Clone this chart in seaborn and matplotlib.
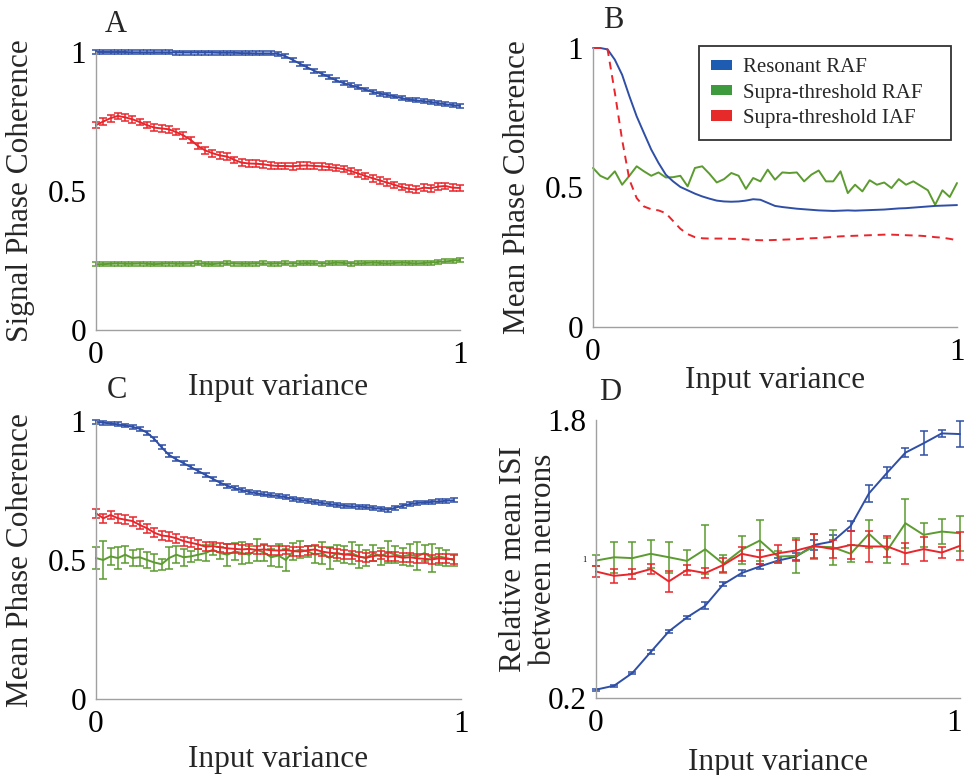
"""
Phase coherence and relative ISI versus input variance for resonant RAF,
supra-threshold RAF and supra-threshold IAF neurons (panels A-D).
"""

import numpy as np
import pandas as pd
import matplotlib
matplotlib.use('Agg')
import matplotlib.pyplot as plt
import matplotlib.transforms as mtransforms
from matplotlib.patches import Patch
from matplotlib.ticker import MultipleLocator
import seaborn as sns

# input variance grids
x_var = [0.00, 0.02, 0.04, 0.06, 0.08, 0.10, 0.12, 0.14, 0.16, 0.18,
         0.20, 0.22, 0.24, 0.26, 0.28, 0.30, 0.32, 0.34, 0.36, 0.38,
         0.40, 0.42, 0.44, 0.46, 0.48, 0.50, 0.52, 0.54, 0.56, 0.58,
         0.60, 0.62, 0.64, 0.66, 0.68, 0.70, 0.72, 0.74, 0.76, 0.78,
         0.80, 0.82, 0.84, 0.86, 0.88, 0.90, 0.92, 0.94, 0.96, 0.98, 1.00]
x_isi = [0.00, 0.05, 0.10, 0.15, 0.20, 0.25, 0.30, 0.35, 0.40, 0.45, 0.50,
         0.55, 0.60, 0.65, 0.70, 0.75, 0.80, 0.85, 0.90, 0.95, 1.00]

# panel A - signal phase coherence
a_res = [1.000, 1.000, 1.000, 1.000, 1.000, 0.999, 0.999, 0.999, 0.999, 0.999,
         0.999, 0.998, 0.998, 0.998, 0.998, 0.998, 0.998, 0.997, 0.997, 0.997,
         0.996, 0.996, 0.995, 0.995, 0.995, 0.993, 0.985, 0.972, 0.958, 0.945,
         0.932, 0.922, 0.910, 0.898, 0.888, 0.880, 0.873, 0.865, 0.856, 0.850,
         0.846, 0.840, 0.834, 0.829, 0.826, 0.823, 0.820, 0.816, 0.812, 0.809, 0.806]
a_iaf = [0.737, 0.750, 0.762, 0.770, 0.765, 0.758, 0.748, 0.737, 0.728, 0.725,
         0.722, 0.712, 0.700, 0.684, 0.662, 0.646, 0.636, 0.628, 0.624, 0.612,
         0.602, 0.599, 0.598, 0.596, 0.592, 0.590, 0.590, 0.589, 0.591, 0.592,
         0.590, 0.589, 0.586, 0.583, 0.579, 0.572, 0.563, 0.554, 0.546, 0.538,
         0.530, 0.522, 0.514, 0.508, 0.505, 0.512, 0.510, 0.516, 0.518, 0.512, 0.511]
a_raf = [0.237, 0.237, 0.238, 0.239, 0.238, 0.238, 0.239, 0.238, 0.237, 0.238,
         0.239, 0.238, 0.238, 0.239, 0.240, 0.238, 0.237, 0.239, 0.240, 0.239,
         0.238, 0.238, 0.239, 0.240, 0.238, 0.239, 0.240, 0.239, 0.240, 0.241,
         0.240, 0.239, 0.240, 0.242, 0.241, 0.239, 0.240, 0.241, 0.242, 0.241,
         0.240, 0.241, 0.242, 0.241, 0.240, 0.241, 0.242, 0.245, 0.247, 0.249, 0.252]
a_err = {'res': 0.007, 'iaf': 0.012, 'raf': 0.007}

# panel B - mean phase coherence, no error bars
b_res = [1.000, 1.000, 0.995, 0.958, 0.904, 0.827, 0.755, 0.695, 0.636, 0.588,
         0.546, 0.522, 0.502, 0.490, 0.478, 0.468, 0.460, 0.453, 0.450, 0.449,
         0.450, 0.453, 0.458, 0.456, 0.445, 0.434, 0.430, 0.427, 0.424, 0.422,
         0.420, 0.418, 0.417, 0.416, 0.417, 0.418, 0.417, 0.418, 0.419, 0.420,
         0.421, 0.423, 0.425, 0.426, 0.428, 0.430, 0.432, 0.434, 0.435, 0.436, 0.437]
b_raf = [0.570, 0.542, 0.530, 0.558, 0.510, 0.542, 0.576, 0.558, 0.542, 0.554,
         0.536, 0.537, 0.542, 0.504, 0.570, 0.576, 0.549, 0.518, 0.530, 0.552,
         0.542, 0.495, 0.534, 0.522, 0.564, 0.528, 0.554, 0.552, 0.554, 0.522,
         0.546, 0.561, 0.522, 0.522, 0.558, 0.480, 0.510, 0.486, 0.526, 0.510,
         0.518, 0.498, 0.530, 0.510, 0.522, 0.506, 0.490, 0.438, 0.490, 0.466, 0.516]
b_iaf = [1.000, 1.000, 0.995, 0.840, 0.671, 0.528, 0.462, 0.432, 0.422, 0.418,
         0.408, 0.380, 0.352, 0.333, 0.322, 0.318, 0.317, 0.317, 0.317, 0.316,
         0.316, 0.314, 0.312, 0.311, 0.311, 0.312, 0.313, 0.314, 0.315, 0.317,
         0.318, 0.319, 0.321, 0.323, 0.325, 0.326, 0.327, 0.328, 0.329, 0.330,
         0.331, 0.331, 0.330, 0.329, 0.328, 0.327, 0.325, 0.322, 0.320, 0.316, 0.311]

# panel C - mean phase coherence with error bars (0 .. 0.98)
c_res = [0.997, 0.994, 0.991, 0.988, 0.984, 0.979, 0.972, 0.958, 0.935, 0.905,
         0.878, 0.862, 0.848, 0.834, 0.820, 0.806, 0.792, 0.778, 0.767, 0.758,
         0.751, 0.745, 0.740, 0.736, 0.733, 0.730, 0.726, 0.720, 0.716, 0.712,
         0.708, 0.705, 0.701, 0.698, 0.695, 0.693, 0.692, 0.690, 0.687, 0.684,
         0.681, 0.688, 0.695, 0.701, 0.705, 0.707, 0.709, 0.711, 0.713, 0.715]
c_iaf = [0.668, 0.650, 0.662, 0.650, 0.645, 0.640, 0.626, 0.614, 0.598, 0.588,
         0.585, 0.578, 0.568, 0.562, 0.556, 0.548, 0.550, 0.546, 0.542, 0.540,
         0.538, 0.540, 0.536, 0.538, 0.535, 0.534, 0.536, 0.532, 0.530, 0.535,
         0.538, 0.530, 0.526, 0.524, 0.520, 0.518, 0.512, 0.508, 0.514, 0.518,
         0.512, 0.514, 0.508, 0.510, 0.506, 0.504, 0.502, 0.506, 0.504, 0.503]
c_raf = [0.507, 0.500, 0.513, 0.507, 0.519, 0.507, 0.510, 0.500, 0.491, 0.485,
         0.507, 0.519, 0.510, 0.513, 0.519, 0.525, 0.537, 0.525, 0.519, 0.531,
         0.525, 0.519, 0.537, 0.527, 0.510, 0.516, 0.500, 0.531, 0.537, 0.531,
         0.519, 0.525, 0.507, 0.525, 0.519, 0.525, 0.513, 0.507, 0.525, 0.513,
         0.528, 0.519, 0.513, 0.519, 0.513, 0.525, 0.507, 0.513, 0.507, 0.500]
c_raf_err = [0.04, 0.07, 0.03, 0.04, 0.03, 0.03, 0.03, 0.03, 0.03, 0.02,
             0.04, 0.03, 0.03, 0.02, 0.02, 0.03, 0.02, 0.02, 0.04, 0.03,
             0.04, 0.03, 0.04, 0.03, 0.03, 0.04, 0.04, 0.03, 0.03, 0.02,
             0.03, 0.04, 0.04, 0.03, 0.03, 0.04, 0.04, 0.03, 0.03, 0.03,
             0.04, 0.03, 0.03, 0.04, 0.05, 0.03, 0.05, 0.03, 0.03, 0.02]
c_err = {'res': 0.007, 'iaf': 0.016}

# panel D - relative mean ISI between neurons
d_res = [0.248, 0.271, 0.344, 0.464, 0.583, 0.664, 0.731, 0.855, 0.919, 0.957, 0.991,
         1.014, 1.081, 1.101, 1.191, 1.378, 1.497, 1.612, 1.666, 1.723, 1.719]
d_raf = [0.991, 1.010, 1.005, 1.030, 1.010, 0.989, 1.056, 0.972, 1.053, 1.106, 1.014,
         1.018, 1.072, 1.068, 1.030, 1.145, 1.049, 1.206, 1.139, 1.158, 1.148]
d_iaf = [0.928, 0.903, 0.913, 0.942, 0.871, 0.938, 0.919, 0.966, 1.030, 1.009, 1.033,
         1.049, 1.076, 1.057, 1.081, 1.072, 1.072, 1.033, 1.057, 1.037, 1.076]
d_res_err = [0.005, 0.005, 0.008, 0.010, 0.010, 0.010, 0.020, 0.010, 0.015, 0.015, 0.015,
             0.020, 0.030, 0.040, 0.030, 0.050, 0.030, 0.025, 0.070, 0.020, 0.075]
d_raf_err = [0.03, 0.09, 0.09, 0.08, 0.09, 0.06, 0.14, 0.05, 0.08, 0.12, 0.03,
             0.10, 0.07, 0.10, 0.05, 0.08, 0.07, 0.14, 0.07, 0.07, 0.10]
d_iaf_err = [0.03, 0.04, 0.03, 0.03, 0.06, 0.03, 0.03, 0.04, 0.04, 0.04, 0.05,
             0.06, 0.07, 0.05, 0.08, 0.09, 0.06, 0.06, 0.07, 0.03, 0.08]

legend_labels = ['Resonant RAF', 'Supra-threshold RAF', 'Supra-threshold IAF']

BLUE, GREEN, RED = '#2f4fa6', '#5b9b2f', '#e8262c'
SPINE = '#a0a0a0'
W, H = 965, 775

sns.set_theme(style='white')
plt.rcParams['font.family'] = ['Liberation Serif', 'DejaVu Serif']

fig = plt.figure(figsize=(W / 100, H / 100), dpi=100)


def px_axes(left, top, right, bottom):
    # axes from pixel box (origin top-left)
    return fig.add_axes([left / W, (H - bottom) / H, (right - left) / W, (bottom - top) / H])


def style_axes(ax, ymin, ymax, yticks, ylabels, minor_step, ylab, ylab_x, xlab_y):
    ax.set_xlim(0, 1)
    ax.set_ylim(ymin, ymax)
    sns.despine(ax=ax)
    for s in ['left', 'bottom']:
        ax.spines[s].set_color(SPINE)
        ax.spines[s].set_linewidth(1.0)
    ax.set_xticks([0, 1])
    ax.set_xticklabels(['0', '1'])
    ax.set_yticks(yticks)
    ax.set_yticklabels(ylabels)
    ax.xaxis.set_minor_locator(MultipleLocator(0.1))
    ax.yaxis.set_minor_locator(MultipleLocator(minor_step))
    ax.tick_params(which='major', length=0, labelsize=22.5, pad=7, colors='black')
    ax.tick_params(which='minor', direction='in', length=4, width=1.0, color=SPINE)
    ax.tick_params(axis='x', which='major', pad=8)
    ax.set_xlabel('Input variance', fontsize=22.5)
    ax.set_ylabel(ylab, fontsize=22.5, linespacing=1.05)
    ax.xaxis.set_label_coords(0.5, xlab_y)
    ax.yaxis.set_label_coords(ylab_x, 0.5)


def draw(ax, x, y, color, err=None, **kw):
    sns.lineplot(x=x, y=y, ax=ax, color=color, linewidth=1.4, errorbar=None,
                 clip_on=False, **kw)
    if err is not None:
        ax.errorbar(x, y, yerr=err, fmt='none', ecolor=color, elinewidth=1.1,
                    capsize=2.8, capthick=1.1, clip_on=False)


# A
axA = px_axes(96, 52, 460, 330)
draw(axA, x_var, a_res, BLUE, a_err['res'])
draw(axA, x_var, a_iaf, RED, a_err['iaf'])
draw(axA, x_var, a_raf, GREEN, a_err['raf'])
style_axes(axA, 0, 1, [0, 0.5, 1], ['0', '0.5', '1'], 1 / 7,
           'Signal Phase Coherence', -0.168, -0.155)

# B
axB = px_axes(593, 48, 957, 327)
draw(axB, x_var, b_raf, GREEN)
draw(axB, x_var, b_res, BLUE)
draw(axB, x_var, b_iaf, RED, linestyle=(0, (4, 3)))
style_axes(axB, 0, 1, [0, 0.5, 1], ['0', '0.5', '1'], 1 / 7,
           'Mean Phase Coherence', -0.168, -0.139)
handles = [Patch(facecolor=c, edgecolor='none') for c in ['#1d5cb0', '#3d9a3d', '#e62a2a']]
leg = axB.legend(handles, legend_labels, loc='upper left', mode='expand',
                 bbox_to_anchor=(0.291, 0.0, 0.692, 1.008),
                 borderaxespad=0, fontsize=15, frameon=True, fancybox=False,
                 edgecolor='black', handlelength=1.0, handleheight=0.4,
                 handletextpad=0.5, labelspacing=0.3, borderpad=0.6)
leg.get_frame().set_linewidth(1.3)

# C
axC = px_axes(96, 421, 461, 699)
c_x = x_var[:50]
draw(axC, c_x, c_res, BLUE, c_err['res'])
draw(axC, c_x, c_raf, GREEN, c_raf_err)
draw(axC, c_x, c_iaf, RED, c_err['iaf'])
style_axes(axC, 0, 1, [0, 0.5, 1], ['0', '0.5', '1'], 1 / 7,
           'Mean Phase Coherence', -0.167, -0.164)

# D
axD = px_axes(596, 420, 960, 698)
draw(axD, x_isi, d_res, BLUE, d_res_err)
draw(axD, x_isi, d_raf, GREEN, d_raf_err)
draw(axD, x_isi, d_iaf, RED, d_iaf_err)
style_axes(axD, 0.2, 1.8, [0.2, 1.0, 1.8], ['0.2', '1', '1.8'], 0.2,
           'Relative mean ISI\nbetween neurons', -0.104, -0.179)
axD.get_yticklabels()[1].set_fontsize(6)
# keep the right-hand "1" inside the canvas
lab1 = axD.get_xticklabels()[1]
lab1.set_transform(lab1.get_transform() + mtransforms.ScaledTranslation(-6 / 100, 0, fig.dpi_scale_trans))

# panel letters
for letter, (px, py) in zip('ABCD', [(116, 25), (613, 20), (117, 391), (610, 393)]):
    fig.text(px / W, 1 - py / H, letter, fontsize=22, ha='center', va='center')

fig.savefig('out.png', dpi=100)
